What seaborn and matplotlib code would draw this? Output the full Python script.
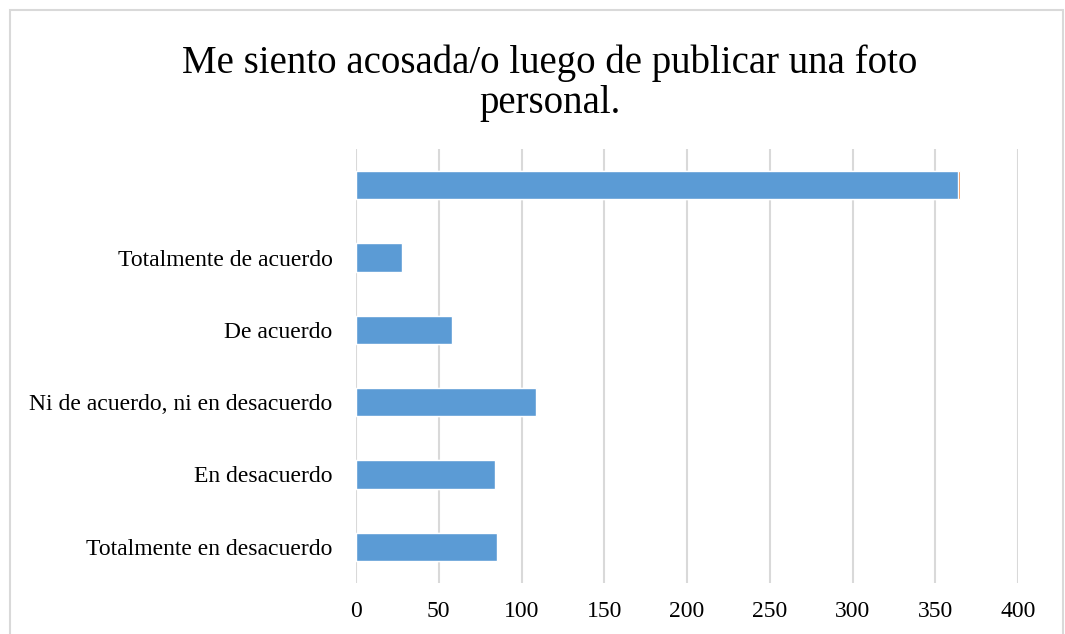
import matplotlib
matplotlib.use("Agg")
import matplotlib.pyplot as plt
import seaborn as sns
import pandas as pd
from matplotlib.patches import Rectangle

# Data (top to bottom)
categories = ["", "Totalmente de acuerdo", "De acuerdo",
              "Ni de acuerdo, ni en desacuerdo", "En desacuerdo",
              "Totalmente en desacuerdo"]
counts = [364, 28, 58, 109, 84, 85]
percent = [1.00, 0.08, 0.16, 0.30, 0.23, 0.23]
x_ticks = [0, 50, 100, 150, 200, 250, 300, 350, 400]
title = "Me siento acosada/o luego de publicar una foto\npersonal."

sns.set_theme(style="white")
plt.rcParams["font.family"] = ["Liberation Serif", "DejaVu Serif"]

df = pd.DataFrame({"cat": categories, "count": counts, "pct": percent})
df["stack"] = df["count"] + df["pct"]

fig = plt.figure(figsize=(10.65, 6.34), dpi=100)
ax = fig.add_axes([356 / 1065, 51 / 634, 662 / 1065, 434 / 634])

sns.barplot(data=df, x="stack", y="cat", order=categories, color="#ED7D31",
            saturation=1, width=0.39, orient="h", ax=ax, zorder=2)
sns.barplot(data=df, x="count", y="cat", order=categories, color="#5B9BD5",
            saturation=1, width=0.39, orient="h", ax=ax, zorder=3)

ax.set_xlim(0, 400)
ax.set_xticks(x_ticks)
ax.set_xticklabels([str(t) for t in x_ticks])
ax.set_xlabel("")
ax.set_ylabel("")
ax.grid(axis="x", color="#D9D9D9", linewidth=1.5, zorder=0)
ax.grid(axis="y", visible=False)
ax.set_axisbelow(True)
for s in ax.spines.values():
    s.set_visible(False)
ax.tick_params(axis="x", length=0, pad=13, labelsize=17, colors="black")
ax.tick_params(axis="y", length=0, pad=17, labelsize=17, colors="black")

fig.text(550 / 1065, 1 - 83 / 634, title, ha="center", va="center",
         fontsize=28, color="black", linespacing=1.12)

# chart border
fig.patches.append(Rectangle((10, -5), 1053, 629 - 10 + 5 + 5, transform=None,
                             fill=False, edgecolor="#D9D9D9", linewidth=1.5))

fig.savefig("out.png", dpi=100)
